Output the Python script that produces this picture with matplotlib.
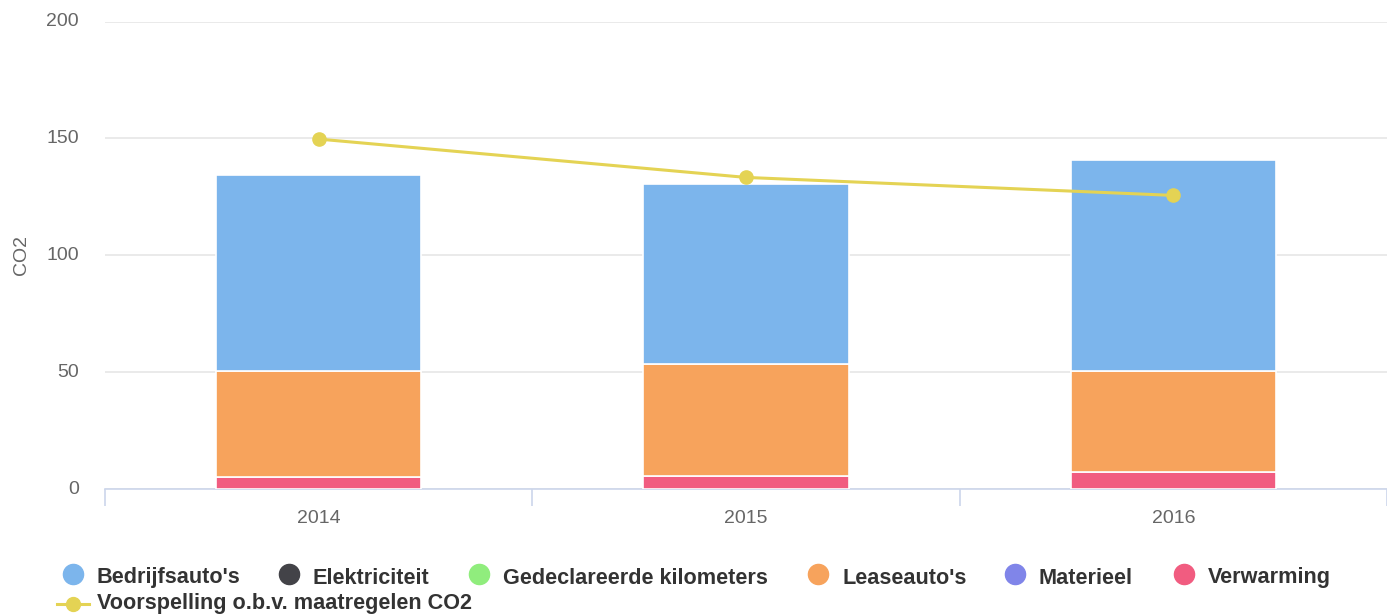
import matplotlib
matplotlib.use("Agg")
import matplotlib.pyplot as plt
from matplotlib.lines import Line2D
import numpy as np

plt.rcParams['font.family'] = ['Liberation Sans', 'DejaVu Sans']

years = ["2014", "2015", "2016"]
verwarming = [5.0, 5.6, 7.1]
leaseautos = [45.4, 47.7, 43.2]
bedrijfsautos = [83.8, 77.0, 90.3]
elektriciteit = [0, 0, 0]
gedeclareerde = [0, 0, 0]
materieel = [0, 0, 0]
voorspelling = [149.7, 133.3, 125.6]

series_names = ["Bedrijfsauto's", "Elektriciteit", "Gedeclareerde kilometers",
                "Leaseauto's", "Materieel", "Verwarming"]
colors = {"Bedrijfsauto's": "#7cb5ec", "Elektriciteit": "#434348",
          "Gedeclareerde kilometers": "#90ed7d", "Leaseauto's": "#f7a35c",
          "Materieel": "#8085e9", "Verwarming": "#f15c80"}
line_color = "#e4d354"
line_name = "Voorspelling o.b.v. maatregelen CO2"

W, H = 1387, 614
fig = plt.figure(figsize=(W / 100, H / 100), dpi=100)
left, right, top, bottom = 105, 1387, 21.5, 489
ax = fig.add_axes([left / W, 1 - bottom / H, (right - left) / W, (bottom - top) / H])

x = np.arange(len(years))
bw = 0.48
# stack order bottom-up: Verwarming, Materieel, Leaseauto's, Gedeclareerde, Elektriciteit, Bedrijfsauto's
stack = [("Verwarming", verwarming), ("Materieel", materieel), ("Leaseauto's", leaseautos),
         ("Gedeclareerde kilometers", gedeclareerde), ("Elektriciteit", elektriciteit),
         ("Bedrijfsauto's", bedrijfsautos)]
base = np.zeros(len(years))
for name, vals in stack:
    vals = np.array(vals, dtype=float)
    mask = vals > 0
    ax.bar(x[mask], vals[mask], bottom=base[mask], width=bw, color=colors[name],
           edgecolor="white", linewidth=1.2, zorder=3)
    base += vals

ax.plot(x, voorspelling, color=line_color, linewidth=2.2, marker="o", markersize=9.5,
        zorder=4)

ax.set_ylim(0, 200)
ax.set_yticks([0, 50, 100, 150, 200])
cat_w = 429.0
ax.set_xlim(-0.5, -0.5 + (right - left) / cat_w)
ax.set_xticks(x)
ax.set_xticklabels(years)
ax.set_xticks(np.arange(-0.5, 3.0, 1.0), minor=True)
ax.grid(axis="y", color="#e6e6e6", linewidth=1.2, zorder=0)
for s in ["top", "right", "left"]:
    ax.spines[s].set_visible(False)
ax.spines["bottom"].set_color("#ccd6eb")
ax.spines["bottom"].set_linewidth(1.2)
ax.tick_params(axis="x", which="major", length=0, pad=15, labelsize=14, labelcolor="#666666")
ax.tick_params(axis="x", which="minor", length=12.5, color="#ccd6eb", width=1.2)
ax.tick_params(axis="y", length=0, pad=18.7, labelsize=14, labelcolor="#666666")
for lbl in ax.get_yticklabels():
    lbl.set_verticalalignment("center")
ax.set_ylabel("CO2", fontsize=14, color="#666666")
ax.yaxis.set_label_coords(-(left - 30) / (right - left), 0.5)

# Legend (manual flow layout as in the reference)
row1_marker_y = 1 - 574 / H
row1_text_y = 1 - 583.5 / H
row2_marker_y = 1 - 603.5 / H
row2_text_y = 1 - 608.5 / H
marker_x = [73, 289, 479, 818, 1015, 1184]
for name, mx in zip(series_names, marker_x):
    fig.add_artist(Line2D([mx / W], [row1_marker_y], marker="o", markersize=14.5,
                          color=colors[name], linestyle="none", transform=fig.transFigure))
    fig.text((mx + 24) / W, row1_text_y, name, fontsize=15.6, fontweight="bold",
             color="#333333", va="baseline", ha="left")
fig.add_artist(Line2D([57 / W, 89 / W], [row2_marker_y, row2_marker_y], color=line_color,
                      linewidth=2.2, transform=fig.transFigure))
fig.add_artist(Line2D([73 / W], [row2_marker_y], marker="o", markersize=10,
                      color=line_color, linestyle="none", transform=fig.transFigure))
fig.text(97 / W, row2_text_y, line_name, fontsize=15.6, fontweight="bold", color="#333333",
         va="baseline", ha="left")

fig.savefig("out.png", dpi=100)
